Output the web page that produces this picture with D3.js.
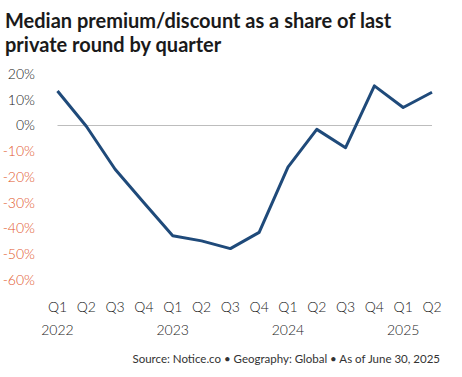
<!DOCTYPE html>
<html>
<head>
<meta charset="utf-8">
<script src="https://cdn.jsdelivr.net/npm/d3@7"></script>
<style>
  body { margin: 0; background: #fff; }
  svg { display: block; font-family: Lato, "Open Sans", sans-serif; }
</style>
</head>
<body>
<svg id="chart" width="462" height="377"></svg>
<script>
// data
var quarters = ["Q1", "Q2", "Q3", "Q4", "Q1", "Q2", "Q3", "Q4", "Q1", "Q2", "Q3", "Q4", "Q1", "Q2"];
var years = ["2022", "", "", "", "2023", "", "", "", "2024", "", "", "", "2025", ""];
var premium = [13.4, -0.3, -17, -30, -42.8, -44.8, -47.8, -41.5, -16.2, -1.5, -8.6, 15.4, 7, 12.9];
var yTicks = [20, 10, 0, -10, -20, -30, -40, -50, -60];

var svg = d3.select("#chart");
var dims = { width: 462, height: 377, left: 57.5, right: 432, top: 74, bottom: 280 };

//Title
var title = svg.append("g").attr("font-weight", 700).attr("font-size", 20).attr("fill", "#1a1a1a");
title.append("text").attr("x", 5).attr("y", 28).text("Median premium/discount as a share of last");
title.append("text").attr("x", 5).attr("y", 52).text("private round by quarter");

//Scales
var xScale = d3.scalePoint()
    .domain(d3.range(quarters.length))
    .range([dims.left, dims.right]);

var yScale = d3.scaleLinear()
    .domain([20, -60])
    .range([dims.top, dims.bottom]);

//Y axis labels
svg.append("g")
    .call(d3.axisLeft(yScale).tickValues(yTicks).tickFormat(d => d + "%").tickSize(0).tickPadding(0))
    .attr("transform", "translate(35,0)")
    .call(g => g.select(".domain").remove())
    .call(g => g.selectAll("text")
        .attr("font-size", 14)
        .attr("font-weight", 300)
        .attr("font-family", "Lato, sans-serif")
        .attr("fill", d => d < 0 ? "#e2572c" : "#222"));

//Zero line
svg.append("line")
    .attr("x1", dims.left).attr("x2", dims.right)
    .attr("y1", yScale(0)).attr("y2", yScale(0))
    .attr("stroke", "#bdbdbd").attr("stroke-width", 1);

//X axis labels
var xAxis = svg.append("g")
    .attr("font-size", 14)
    .attr("font-weight", 300)
    .attr("fill", "#222")
    .attr("text-anchor", "middle");

xAxis.selectAll(".q")
    .data(quarters)
    .enter()
    .append("text")
    .attr("class", "q")
    .attr("x", (d, i) => xScale(i))
    .attr("y", 312)
    .text(d => d);

xAxis.selectAll(".yr")
    .data(years)
    .enter()
    .append("text")
    .attr("class", "yr")
    .attr("x", (d, i) => xScale(i))
    .attr("y", 335)
    .text(d => d);

//Line
svg.append("path")
    .datum(premium)
    .attr("fill", "none")
    .attr("stroke", "#1f4a7a")
    .attr("stroke-width", 3)
    .attr("stroke-linejoin", "round")
    .attr("d", d3.line()
        .x((d, i) => xScale(i))
        .y(d => yScale(d)));

//Source
svg.append("text")
    .attr("x", 440).attr("y", 363)
    .attr("text-anchor", "end")
    .attr("font-size", 11.5)
    .attr("fill", "#333")
    .text("Source: Notice.co  •  Geography: Global  •  As of June 30, 2025");
</script>
</body>
</html>
